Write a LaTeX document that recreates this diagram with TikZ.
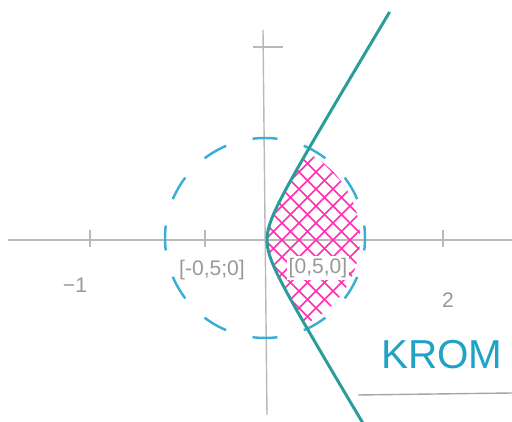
\documentclass[tikz,border=0pt]{standalone}
\usepackage{fontspec}
\setmainfont{Liberation Sans}
\definecolor{hypercol}{HTML}{2A9D9A}
\definecolor{circcol}{HTML}{3AAED8}
\definecolor{hatchcol}{HTML}{FF2FB4}
\definecolor{inkcol}{HTML}{1FA3C4}
\begin{document}
\begin{tikzpicture}\useasboundingbox (-5.3,-3.64) rectangle (4.94,4.8);
\draw[gray!55, thick] (-5.14,0) -- (4.94,0);
\draw[gray!55, thick] (-0.04,4.2) -- (0.04,-3.5);

\foreach \x in {-3.5,-1.2,3.56}
   \draw[gray!55, thick] (\x, 0.2) -- (\x, -0.15);
\draw[gray!55, thick] (-0.24,3.86) -- (0.36,3.86);

\begin{scope}
   \clip (0,0.04) circle (1.9);
   \clip plot[domain=-2.2:2.2, samples=40, variable=\t] ({0.04+0.3*(sqrt(1+(\t/0.5)^2)-1)}, \t) -- (3,2.2) -- (3,-2.2) -- cycle;
   \foreach \k in {-8,...,14}{
      \draw[hatchcol, line width=0.9pt] (\k*0.34-2.5, -2.5) -- ++(5,5);
      \draw[hatchcol, line width=0.9pt] (\k*0.34+2.5, -2.5) -- ++(-5,5);
      }
\end{scope}

\draw[circcol, line width=1.4pt, dash pattern=on 0.5cm off 0.5472cm, dash phase=0.25cm] (0,0.04) circle (2);
\draw[hypercol, line width=1.7pt] plot[domain=-3.7:4.56, samples=80, smooth, variable=\t] ({0.04+0.3*(sqrt(1+(\t/0.5)^2)-1)}, \t);

\node[gray!80, font=\large] (minusone) at (-3.8,-0.9) {−1};
\node[gray!80, font=\large] (two) at (3.66,-1.2) {2};
\node[gray!80, font=\large] (leftpt) at (-1.06,-0.6) {[-0,5;0]};
\node[gray!80, font=\large, fill=white, inner sep=1pt] (rightpt) at (1.06,-0.56) {[0,5,0]};

\node[inkcol, anchor=west, font=\fontsize{23}{23}\selectfont] (krom) at (2.2,-2.3) {KROM};
\draw[gray!70, thick] (1.86,-3.1) -- (4.94,-3.06);

\end{tikzpicture}
\end{document}
